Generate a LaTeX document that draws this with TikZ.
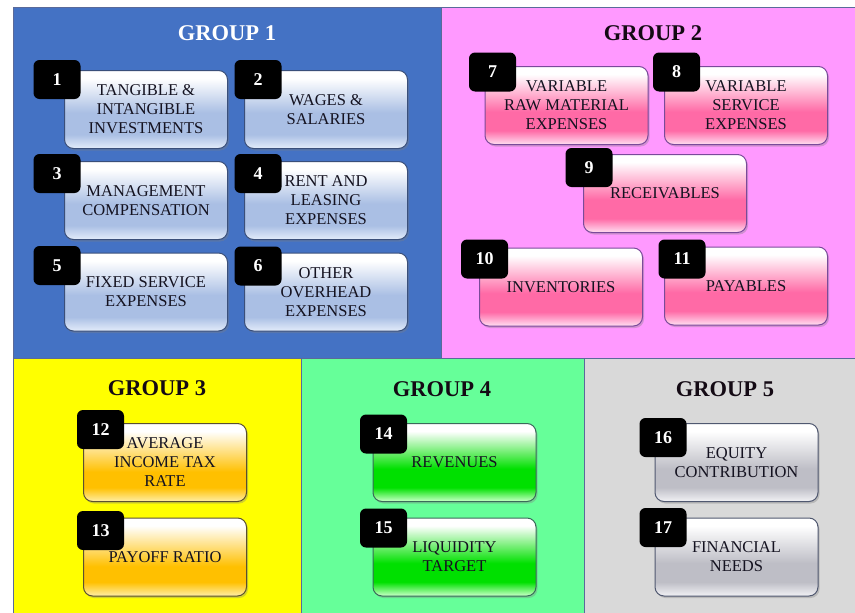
\documentclass[tikz,border=0pt]{standalone}
\usepackage{fontspec}
\setmainfont{Liberation Serif}
\usepackage{xcolor}
\usepackage{tikz}
\usetikzlibrary{shadows}

\definecolor{panelone}{HTML}{4472C4}
\definecolor{paneltwo}{HTML}{FF99FF}
\definecolor{panelthree}{HTML}{FFFF00}
\definecolor{panelfour}{HTML}{66FF99}
\definecolor{panelfive}{HTML}{D9D9D9}
\definecolor{panelline}{HTML}{5A6A9A}
\definecolor{titleink}{HTML}{140A14}
\definecolor{itemink}{HTML}{141220}
% glossy fills of the boxes, one per group
\definecolor{oned}{HTML}{AABFE4}\definecolor{onel}{HTML}{DDE7F8}
\definecolor{twod}{HTML}{FF6AA6}\definecolor{twol}{HTML}{FFD2EA}
\definecolor{threed}{HTML}{FFC000}\definecolor{threel}{HTML}{FFEA95}
\definecolor{fourd}{HTML}{00E000}\definecolor{fourl}{HTML}{B4FFB4}
\definecolor{fived}{HTML}{BEBEC6}\definecolor{fivel}{HTML}{ECECF0}
\definecolor{edgeone}{HTML}{3A4F7A}
\definecolor{edgetwo}{HTML}{7A4A9A}
\definecolor{edgethree}{HTML}{5A5030}
\definecolor{edgefour}{HTML}{3A6A5A}
\definecolor{edgefive}{HTML}{505870}
\pgfdeclareverticalshading{glossone}{100bp}{color(0bp)=(onel); color(26bp)=(onel); color(34bp)=(oned); color(48bp)=(oned); color(70bp)=(white); color(100bp)=(white)}
\pgfdeclareverticalshading{glosstwo}{100bp}{color(0bp)=(twol); color(26bp)=(twol); color(34bp)=(twod); color(46bp)=(twod); color(70bp)=(white); color(100bp)=(white)}
\pgfdeclareverticalshading{glossthree}{100bp}{color(0bp)=(threel); color(26bp)=(threel); color(34bp)=(threed); color(44bp)=(threed); color(70bp)=(white); color(100bp)=(white)}
\pgfdeclareverticalshading{glossfour}{100bp}{color(0bp)=(fourl); color(26bp)=(fourl); color(34bp)=(fourd); color(46bp)=(fourd); color(70bp)=(white); color(100bp)=(white)}
\pgfdeclareverticalshading{glossfive}{100bp}{color(0bp)=(fivel); color(26bp)=(fivel); color(34bp)=(fived); color(46bp)=(fived); color(70bp)=(white); color(100bp)=(white)}

\begin{document}
\begin{tikzpicture}[x=1pt,y=-1pt,
		panel/.style={draw=panelline,line width=0.8pt},
		title/.style={font=\fontsize{22.5}{26}\selectfont\bfseries,text=titleink},
		item/.style={shade,draw,line width=1pt,rounded corners=9pt,minimum width=163pt,minimum height=78pt,inner sep=2pt,align=center,font=\fontsize{16.5}{19}\selectfont,text=itemink,drop shadow={shadow xshift=1.5pt,shadow yshift=-2pt,opacity=0.35}},
		badge/.style={fill=black,rounded corners=6pt,minimum width=47pt,minimum height=39pt,inner sep=0pt,text=white,font=\fontsize{18}{20}\selectfont\bfseries}]
	\fill[white] (0,0) rectangle (855,613);
	\useasboundingbox (0,0) rectangle (855,613);
	% the five group panels
	\path[panel,fill=panelone] (13,7) rectangle (441,358);
	\path[panel,fill=paneltwo] (441,7) rectangle (855,358);
	\path[panel,fill=panelthree] (13,358) rectangle (301,613);
	\path[panel,fill=panelfour] (301,358) rectangle (584,613);
	\path[panel,fill=panelfive] (584,358) rectangle (855,613);
	\node[title,text=white] (grp1) at (227,33) {GROUP 1};
	\node[title] (grp2) at (653,33) {GROUP 2};
	\node[title] (grp3) at (157,388) {GROUP 3};
	\node[title] (grp4) at (442,389) {GROUP 4};
	\node[title] (grp5) at (725,389) {GROUP 5};
	% group 1
	\begin{scope}[item/.append style={shading=glossone,draw=edgeone}]
		\foreach \n/\x/\y/\txt in {1/146/109.5/{TANGIBLE \&\\INTANGIBLE\\INVESTMENTS},
			2/326/109.5/{WAGES \&\\SALARIES},
			3/146/200.5/{MANAGEMENT\\COMPENSATION},
			4/326/200.5/{RENT AND\\LEASING\\EXPENSES},
			5/146/292/{FIXED SERVICE\\EXPENSES},
			6/326/292/{OTHER\\OVERHEAD\\EXPENSES}}
		{
			\node[item] (box\n) at (\x,\y) {\txt};
		}
	\end{scope}
	% group 2
	\begin{scope}[item/.append style={shading=glosstwo,draw=edgetwo}]
		\foreach \n/\x/\y/\txt in {7/566.5/105.5/{VARIABLE\\RAW MATERIAL\\EXPENSES},
			8/746/105.5/{VARIABLE\\SERVICE\\EXPENSES},
			9/665/193.5/{RECEIVABLES},
			10/561/287/{INVENTORIES},
			11/746/286/{PAYABLES}}
		{
			\node[item] (box\n) at (\x,\y) {\txt};
		}
	\end{scope}
	% group 3
	\begin{scope}[item/.append style={shading=glossthree,draw=edgethree}]
		\node[item] (box12) at (165,462.5) {AVERAGE\\INCOME TAX\\RATE};
		\node[item] (box13) at (165,557) {PAYOFF RATIO};
	\end{scope}
	% group 4
	\begin{scope}[item/.append style={shading=glossfour,draw=edgefour}]
		\node[item] (box14) at (454.5,462.5) {REVENUES};
		\node[item] (box15) at (454.5,557) {LIQUIDITY\\TARGET};
	\end{scope}
	% group 5
	\begin{scope}[item/.append style={shading=glossfive,draw=edgefive}]
		\node[item] (box16) at (736.5,462.5) {EQUITY\\CONTRIBUTION};
		\node[item] (box17) at (736.5,557) {FINANCIAL\\NEEDS};
	\end{scope}
	% number badges on top
	\foreach \n/\x/\y in {1/57/79.5, 2/258/79.5, 3/57/173.5, 4/258/173.5, 5/57/265.5, 6/258/266,
		7/492.5/72, 8/676.5/72, 9/589/167.5, 10/484.5/259, 11/682/259,
		12/100.5/429.5, 13/100.5/530.5, 14/383.5/434, 15/383.5/528, 16/663/437.5, 17/663/527.5}
	{
		\node[badge] (num\n) at (\x,\y) {\n};
	}
\end{tikzpicture}
\end{document}
